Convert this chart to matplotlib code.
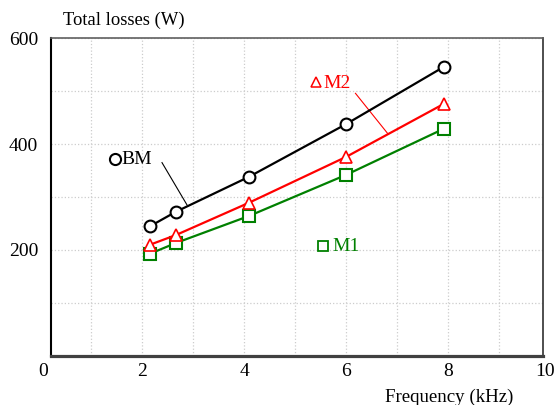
import numpy as np
import matplotlib
matplotlib.use('Agg')
import matplotlib.pyplot as plt

plt.rcParams['font.family'] = ['Liberation Serif', 'DejaVu Serif']

# Measured total losses (W) vs switching frequency (kHz)
freq = [2.16, 2.66, 4.09, 6.0, 7.91]
loss_bm = [245, 272, 338, 438, 546]
loss_m2 = [210, 228, 289, 376, 476]
loss_m1 = [193, 213, 264, 342, 429]

x_grid = [1, 2, 3, 4, 5, 6, 7, 8, 9]
x_labels = ['', '2', '', '4', '', '6', '', '8', '']
y_grid = [100, 200, 300, 400, 500, 600]
y_labels = ['', '200', '', '400', '', '600']

fig = plt.figure(figsize=(5.55, 4.05), dpi=100)
ax = fig.add_axes([0.0914, 0.1217, 0.8866, 0.7837])

ax.plot(freq, loss_bm, color='black', lw=1.6, marker='o', ms=8.5,
        mfc='white', mec='black', mew=1.5, zorder=5)
ax.plot(freq, loss_m2, color='#ff0000', lw=1.6, marker='^', ms=8.5,
        mfc='white', mec='#ff0000', mew=1.2, zorder=4)
ax.plot(freq, loss_m1, color='#008000', lw=1.6, marker='s', ms=8.5,
        mfc='white', mec='#008000', mew=1.5, zorder=3)

ax.set_xlim(0.21, 9.85)
ax.set_ylim(0, 600)
ax.set_xticks(x_grid)
ax.set_xticklabels(x_labels)
ax.set_yticks(y_grid)
ax.set_yticklabels(y_labels)
ax.tick_params(length=0, labelsize=14)
ax.tick_params(axis='y', pad=9)
ax.tick_params(axis='x', pad=5)
ax.grid(True, color='#cccccc', linestyle=':', linewidth=0.9)

# tick labels at 0 and 10 sit outside the plotted range
for xv, s in [(0.06, '0'), (9.9, '10')]:
    ax.annotate(s, xy=(xv, 0), xycoords=('data', 'axes fraction'),
                xytext=(0, -5), textcoords='offset points',
                ha='center', va='top', fontsize=14, annotation_clip=False)

ax.spines['left'].set_color('black')
ax.spines['left'].set_linewidth(1.5)
ax.spines['bottom'].set_color('#404040')
ax.spines['bottom'].set_linewidth(2.3)
ax.spines['top'].set_color('#606060')
ax.spines['top'].set_linewidth(1.2)
ax.spines['right'].set_color('#404040')
ax.spines['right'].set_linewidth(1.3)

# series labels with leader lines
ax.plot([1.47], [372], marker='o', ms=8, mfc='white', mec='black', mew=1.5, clip_on=False)
ax.text(1.6, 370, 'BM', fontsize=14, va='center', ha='left')
ax.plot([2.39, 2.88], [365, 285], color='black', lw=0.8)

ax.plot([5.4], [517], marker='^', ms=7, mfc='white', mec='#ff0000', mew=1.1)
ax.text(5.55, 515, 'M2', fontsize=14, va='center', ha='left', color='#ff0000')
ax.plot([6.18, 6.82], [496, 419], color='#ff0000', lw=0.8)

ax.plot([5.55], [208], marker='s', ms=7, mfc='white', mec='#008000', mew=1.3)
ax.text(5.72, 206, 'M1', fontsize=14, va='center', ha='left', color='#008000')

fig.text(124 / 555, 1 - 20 / 405, 'Total losses (W)', fontsize=13.4, ha='center', va='center')
fig.text(449 / 555, 1 - 397 / 405, 'Frequency (kHz)', fontsize=13.6, ha='center', va='center')

plt.savefig('out.png', dpi=100)
